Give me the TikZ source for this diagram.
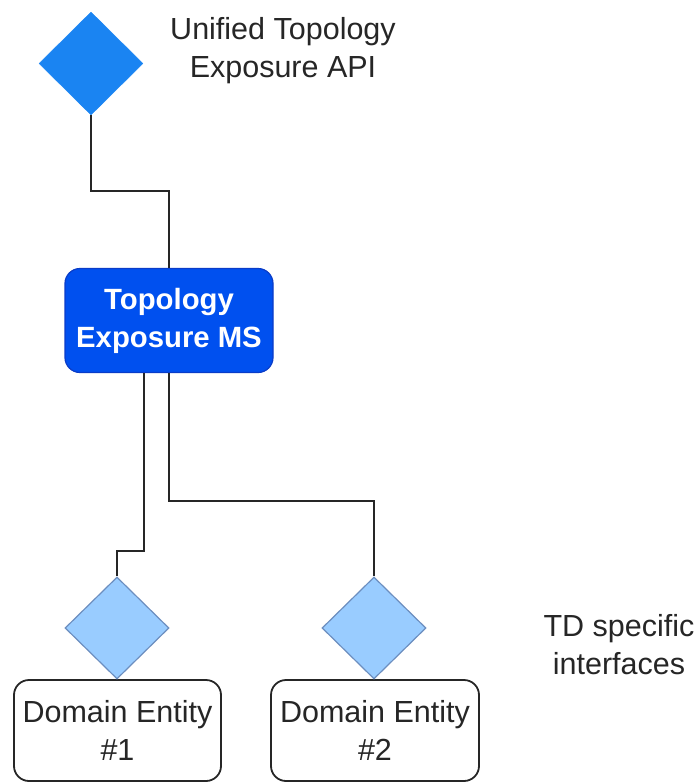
\documentclass[tikz,border=0pt]{standalone}
\usepackage{fontspec}
\setmainfont{Liberation Sans}
\usetikzlibrary{shapes.geometric}
\definecolor{apiblue}{HTML}{1A84F2}
\definecolor{msblue}{HTML}{0050EF}
\definecolor{msedge}{HTML}{0A3CC8}
\definecolor{tdfill}{HTML}{99CCFF}
\definecolor{tdedge}{HTML}{6C8EBF}
\definecolor{txt}{HTML}{262626}
\tikzset{
  every node/.style={font=\fontsize{30.5}{38}\selectfont, text=txt},
  apidia/.style={diamond, fill=apiblue, draw=apiblue, inner sep=0pt,
    minimum width=104pt, minimum height=103pt},
  tddia/.style={diamond, fill=tdfill, draw=tdedge, line width=1.2pt, inner sep=0pt,
    minimum width=104pt, minimum height=102pt},
  msbox/.style={rectangle, rounded corners=15pt, fill=msblue, draw=msedge, line width=1.2pt,
    minimum width=208pt, minimum height=104pt, align=center, text=white,
    font=\fontsize{29.3}{38}\selectfont\bfseries},
  entity/.style={rectangle, rounded corners=15pt, fill=white, draw=black!85, line width=1.8pt,
    minimum height=101pt, align=center},
  label/.style={align=center},
  wire/.style={draw=black!85, line width=2.6pt}
}
\begin{document}
\begin{tikzpicture}[x=1pt,y=-1pt]
\useasboundingbox (0,0) rectangle (696,782);

% interface diamonds and components
\node[apidia] (api) at (91,63.5) {};
\node[label] (apitext) at (283,51) {Unified Topology\\Exposure API};

\node[msbox] (ms) at (169,320.5) {Topology\\Exposure MS};

\node[entity, minimum width=207pt] (de1) at (117.5,730.5) {Domain Entity\\\#1};
\node[entity, minimum width=208pt] (de2) at (375,730.5) {Domain Entity\\\#2};

\node[tddia] (td1) at (117,628) {};
\node[tddia] (td2) at (374,628) {};

\node[label] (tdtext) at (619,645) {TD specific\\interfaces};

% connectors
\coordinate (msl) at ([xshift=-25pt]ms.south);
\draw[wire] (api.south) -- (api.south |- 0,191) -| (ms.north);
\draw[wire] (msl) -- (msl |- 0,551) -| (td1.north);
\draw[wire] (ms.south) -- (ms.south |- 0,501) -| (td2.north);
\end{tikzpicture}
\end{document}
